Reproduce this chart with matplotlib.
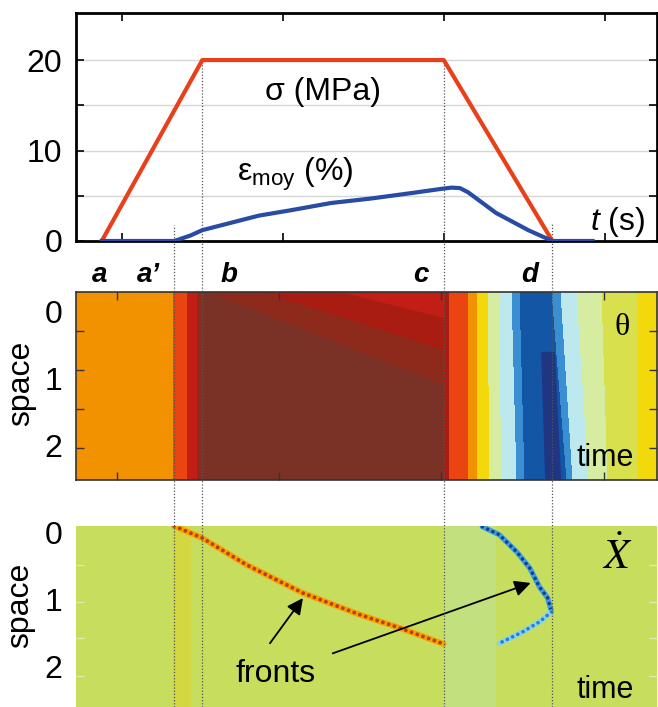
import matplotlib
matplotlib.use('Agg')
import matplotlib.pyplot as plt
import numpy as np
from matplotlib.colors import ListedColormap, BoundaryNorm
from matplotlib.lines import Line2D
import matplotlib.transforms as mtransforms

plt.rcParams['font.family'] = ['Liberation Sans', 'DejaVu Sans']
plt.rcParams['mathtext.fontset'] = 'custom'
plt.rcParams['mathtext.rm'] = 'Liberation Sans'
plt.rcParams['mathtext.it'] = 'Liberation Sans:italic'

# ---------------- data ----------------
event_names = ['a', 'a’', 'b', 'c', 'd']
event_label_t = [-0.25, 5.8, 15.8, 39.6, 53.2]
guide_t = [9, 12.5, 42.5, 56]
guide_top = [1.8, 20, 20, 1.9]
time_ticks = [2.5, 22.5, 42.5, 62.5]
map_time_ticks = [1.9, 22.0, 42.2, 62.4]

sigma_t = [0, 12.5, 42.5, 56]
sigma_v = [0, 20, 20, 0]
eps_t = [0, 9, 11, 12.5, 16, 19.5, 23.5, 28.5, 33.5, 38.5, 42.5, 43.5, 44.5, 45.5, 49, 53, 56, 61]
eps_v = [0, 0, 0.6, 1.2, 2.0, 2.8, 3.4, 4.2, 4.7, 5.3, 5.8, 5.9, 5.85, 5.4, 3.1, 1.2, 0, 0]

# theta map: band edges in time at top and bottom of the space domain, level per band
theta_space = [-0.3, 2.52]
theta_edges_top = [-3.2, 8.9, 10.6, 11.8, 12.5, 42.5, 43.2, 45.5, 46.6, 48.0, 49.4, 51.0, 52.0, 56.0, 57.1, 59.0, 62.2, 66.5, 69.2]
theta_edges_bot = [-3.2, 8.9, 10.6, 11.8, 12.5, 42.5, 43.2, 45.5, 46.6, 48.2, 49.8, 51.6, 52.6, 57.8, 58.5, 60.6, 62.9, 66.5, 69.2]
theta_level = [7, 8, 9, 11, 12, 10, 8, 7, 6, 4, 3, 2, 1, 2, 3, 4, 5, 6]
wedge_start_t = [13.2, 19.9, 29.6]
wedge_end_s = [1.1, 0.57, 0.1]
wedge_level = [11, 10, 9]
wedge_end_t = 42.5
navy_t = [54.6, 56.3, 57.1, 55.1]
navy_s = [0.6, 0.6, 2.52, 2.52]
navy_level = 0
theta_minor = [0.29, 0.87, 1.46, 2.04]

# Xdot map
xdot_space = [-0.1, 2.6]
xdot_edges = [-3.2, 8.9, 11.1, 42.5, 49.0, 69.2]
xdot_level = [0, 1, 0, -1, 0]
xdot_minor = [0.48, 1.03, 1.57, 2.14]
front1_t = [9, 12.5, 18, 25, 32, 37, 42.5]
front1_s = [-0.1, 0.08, 0.48, 0.9, 1.22, 1.42, 1.66]
front2a_t = [47.3, 49.4, 51.6, 53.2, 54.4, 55.4, 55.9]
front2a_s = [-0.09, 0.03, 0.29, 0.53, 0.81, 0.97, 1.18]
front2b_t = [55.9, 54.4, 52.3, 49.4]
front2b_s = [1.18, 1.33, 1.48, 1.65]
arrow_tail = [(20.9, 1.65), (28.7, 1.80)]
arrow_head = [(25.0, 0.975), (53.3, 0.75)]

# ---------------- styles ----------------
theta_colors = ['#203683', '#1356a6', '#3a8fd2', '#bde8ee', '#d6eca0', '#d9e04e',
                '#f3d80c', '#f29200', '#ea4510', '#c21e16', '#a81c12', '#8e2a1c', '#7a3226']
theta_cmap = ListedColormap(theta_colors)
theta_norm = BoundaryNorm(np.arange(-0.5, len(theta_colors)), len(theta_colors))
xdot_cmap = ListedColormap(['#c3e07e', '#c7dd5d', '#d2d742'])
xdot_norm = BoundaryNorm([-1.5, -0.5, 0.5, 1.5], 3)

W, H = 658, 707
fig = plt.figure(figsize=(W / 100, H / 100), dpi=100)
L, Wd = 76 / W, 581 / W
ax1 = fig.add_axes([L, 466 / H, Wd, 228 / H])
ax2 = fig.add_axes([L, 227 / H, Wd, 188.3 / H])
ax3 = fig.add_axes([L, 0, Wd, 181 / H])
xlim = (-3.2, 69.0)

# ---- top panel ----
ax1.plot(sigma_t, sigma_v, color='#e8401a', lw=3, zorder=3)
ax1.plot(eps_t, eps_v, color='#2a4ba3', lw=3, zorder=3)
ax1.set_xlim(*xlim)
ax1.set_ylim(0, 25.2)
ax1.set_yticks([0, 10, 20])
ax1.set_yticks([5, 15], minor=True)
ax1.set_xticks(time_ticks)
ax1.set_xticklabels([])
ax1.grid(axis='y', which='both', color='#d6d6d6', lw=1)
ax1.tick_params(which='both', direction='in', top=True, right=True, length=6, width=1.2,
                labelsize=23, pad=10)
for sp in ax1.spines.values():
    sp.set_linewidth(2)
ax1.vlines(guide_t, 0, guide_top, colors='#555555', linestyles=(0, (1, 1.5)), lw=0.9, zorder=2)
ax1.text(27.5, 15.6, 'σ (MPa)', ha='center', va='baseline', fontsize=23)
ax1.text(24.0, 6.6, r'ε$_{\mathregular{moy}}$ (%)', ha='center', va='baseline', fontsize=23)
ax1.text(64.1, 1.2, r'$t$ (s)', ha='center', va='baseline', fontsize=23)

# ---- theta map ----
X = np.array([theta_edges_top, theta_edges_bot])
Y = np.array([[theta_space[0]] * len(theta_edges_top), [theta_space[1]] * len(theta_edges_bot)])
C = np.array([theta_level])
ax2.pcolormesh(X, Y, C, cmap=theta_cmap, norm=theta_norm, shading='flat')
for t0, s1, lev in zip(wedge_start_t, wedge_end_s, wedge_level):
    ax2.fill([t0, wedge_end_t, wedge_end_t], [theta_space[0], theta_space[0], s1],
             color=theta_cmap(theta_norm(lev)), lw=0)
ax2.fill(navy_t, navy_s, color=theta_cmap(theta_norm(navy_level)), lw=0)
ax2.set_xlim(*xlim)
ax2.set_ylim(theta_space[1], theta_space[0])
ax2.set_yticks([0, 1, 2])
ax2.set_yticks(theta_minor, minor=True)
ax2.set_xticks(map_time_ticks)
ax2.set_xticklabels([])
ax2.tick_params(which='major', axis='y', length=0, labelsize=23, pad=10)
ax2.tick_params(which='minor', axis='y', direction='in', left=True, right=True, length=6, width=1, color='#333333')
ax2.tick_params(which='major', axis='x', direction='in', top=True, bottom=True, length=6, width=1, color='#333333')
for sp in ax2.spines.values():
    sp.set_linewidth(1.2)
    sp.set_color('#333333')
blend2 = mtransforms.blended_transform_factory(ax2.transData, ax2.transAxes)
for name, t in zip(event_names, event_label_t):
    ax2.text(t, 1.0515, name, transform=blend2, ha='center', va='baseline', fontsize=20,
             fontweight='bold', fontstyle='italic')
ax2.text(64.7, 0.23, 'θ', family=['Liberation Serif', 'DejaVu Serif'], fontsize=23,
         ha='center', va='center')
ax2.text(62.6, 2.31, 'time', fontsize=22, ha='center', va='baseline')
ax2.text(-0.095, 0.512, 'space', transform=ax2.transAxes, rotation=90, ha='center', va='center', fontsize=23)

# ---- Xdot map ----
ax3.pcolormesh(xdot_edges, xdot_space, np.array([xdot_level]), cmap=xdot_cmap, norm=xdot_norm)
ax3.plot(front1_t, front1_s, color='#f5a300', lw=4.2, solid_capstyle='round')
ax3.plot(front1_t, front1_s, color='#c23a16', lw=2.8, dashes=(0.01, 1.55), dash_capstyle='round')
ax3.plot(front2a_t, front2a_s, color='#3a9ee0', lw=3.8, solid_capstyle='round')
ax3.plot(front2a_t, front2a_s, color='#163c8e', lw=2.6, dashes=(0.01, 1.6), dash_capstyle='round')
ax3.plot(front2b_t, front2b_s, color='#7fd4f2', lw=3.8, solid_capstyle='round')
ax3.plot(front2b_t, front2b_s, color='#2f78cc', lw=2.6, dashes=(0.01, 1.6), dash_capstyle='round')
for tail, head in zip(arrow_tail, arrow_head):
    ax3.annotate('', xy=head, xytext=tail,
                 arrowprops=dict(arrowstyle='-|>', color='black', lw=1.3, mutation_scale=24,
                                 shrinkA=0, shrinkB=0))
ax3.set_xlim(*xlim)
ax3.set_ylim(xdot_space[1], xdot_space[0])
ax3.set_yticks([0, 1, 2])
ax3.set_yticks(xdot_minor, minor=True)
ax3.set_xticks([])
ax3.tick_params(which='major', axis='y', length=0, labelsize=23, pad=10)
ax3.tick_params(which='minor', axis='y', direction='in', left=True, right=True, length=6, width=1, color='#e2eab8')
for sp in ax3.spines.values():
    sp.set_visible(False)
ax3.text(64.1, 0.37, r'$\dot{X}$', math_fontfamily='stix', fontsize=30, ha='center', va='center')
ax3.text(62.5, 2.47, 'time', fontsize=22, ha='center', va='baseline')
ax3.text(21.6, 2.23, 'fronts', fontsize=23, ha='center', va='baseline')
ax3.text(-0.0965, 0.564, 'space', transform=ax3.transAxes, rotation=90, ha='center', va='center', fontsize=23)

# ---- guide lines across panels ----
blendf = mtransforms.blended_transform_factory(ax1.transData, fig.transFigure)
for t in guide_t:
    fig.add_artist(Line2D([t, t], [0, 466 / H], transform=blendf, color='#555555',
                          ls=(0, (1, 1.5)), lw=0.9, zorder=5))

fig.savefig('out.png', dpi=100)
